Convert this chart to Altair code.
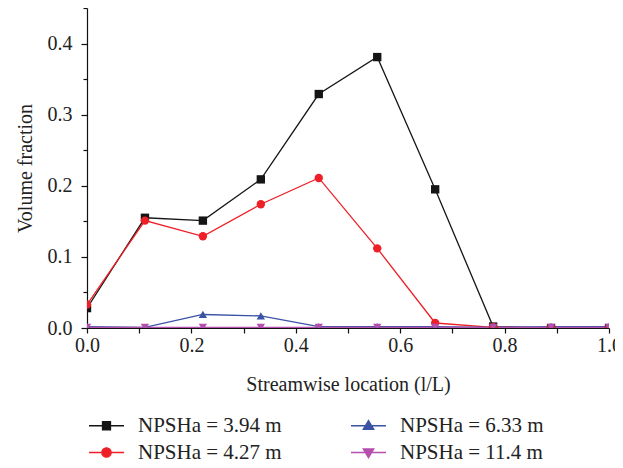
import altair as alt
import pandas as pd

# ---- data ----
x_pos = [0.0, 0.111, 0.222, 0.333, 0.444, 0.556, 0.667, 0.778, 0.889, 1.0]
series_names = ["NPSHa = 3.94 m", "NPSHa = 4.27 m", "NPSHa = 6.33 m", "NPSHa = 11.4 m"]
vf_394 = [0.028, 0.155, 0.151, 0.209, 0.329, 0.381, 0.195, 0.002, 0.0, 0.0]
vf_427 = [0.033, 0.151, 0.129, 0.174, 0.211, 0.112, 0.007, 0.001, 0.0, 0.0]
vf_633 = [0.002, 0.001, 0.019, 0.017, 0.002, 0.002, 0.002, 0.001, 0.002, 0.002]
vf_114 = [0.001, 0.001, 0.001, 0.001, 0.001, 0.001, 0.001, 0.001, 0.001, 0.001]
series_colors = ["#151515", "#ee1f26", "#3a53a4", "#b54fae"]
series_shapes = ["square", "circle", "triangle-up", "triangle-down"]
x_major_ticks = [0.0, 0.2, 0.4, 0.6, 0.8, 1.0]
x_minor_ticks = [0.1, 0.3, 0.5, 0.7, 0.9]
y_major_ticks = [0.0, 0.1, 0.2, 0.3, 0.4]
y_minor_ticks = [0.05, 0.15, 0.25, 0.35, 0.45]

rows = []
for name, vals in zip(series_names, [vf_394, vf_427, vf_633, vf_114]):
    for xv, yv in zip(x_pos, vals):
        rows.append({"x": xv, "y": yv, "series": name})
df = pd.DataFrame(rows)

# legend symbols: line segment with marker (custom SVG paths)
seg = "M-2.06,0H2.06"
legend_paths = {
    series_names[0]: seg + "M-0.47,-0.47H0.47V0.47H-0.47Z",
    series_names[1]: seg + "M-0.55,0A0.55,0.55,0,1,0,0.55,0A0.55,0.55,0,1,0,-0.55,0Z",
    series_names[2]: seg + "M0,-0.62L0.62,0.42H-0.62Z",
    series_names[3]: seg + "M0,0.62L0.62,-0.42H-0.62Z",
}
legend_shape_range = [legend_paths[n] for n in series_names]

FONT = "Liberation Serif"
xs = alt.Scale(domain=[0, 1], nice=False, zero=False)
ys = alt.Scale(domain=[0, 0.45], nice=False)
color_scale = alt.Scale(domain=series_names, range=series_colors)

x_major = alt.Axis(values=x_major_ticks, format=".1f", title="Streamwise location (l/L)",
                   orient="bottom", tickSize=5, labelPadding=2, titlePadding=19,
                   grid=False, labelFlush=False)
y_major = alt.Axis(values=y_major_ticks, format=".1f", title="Volume fraction",
                   orient="left", tickSize=6, labelPadding=9, titlePadding=12, grid=False)
x_minor = alt.Axis(values=x_minor_ticks, labels=False, title="", orient="bottom",
                   tickSize=5, domain=False, grid=False)
y_minor = alt.Axis(values=y_minor_ticks, labels=False, title="", orient="left",
                   tickSize=4, domain=False, grid=False)

lines = alt.Chart(df).mark_line(strokeWidth=1.3, clip=True).encode(
    x=alt.X("x:Q", scale=xs, axis=x_major),
    y=alt.Y("y:Q", scale=ys, axis=y_major),
    stroke=alt.Stroke("series:N", scale=color_scale, legend=None),
)

points = alt.Chart(df).mark_point(filled=True, size=70, opacity=1, clip=True).encode(
    x=alt.X("x:Q", scale=xs, axis=None),
    y=alt.Y("y:Q", scale=ys, axis=None),
    fill=alt.Fill("series:N", scale=color_scale, legend=None),
    shape=alt.Shape("series:N", scale=alt.Scale(domain=series_names, range=series_shapes), legend=None),
)

leg = alt.Legend(
    title=None, orient="none", legendX=9, legendY=407, columns=2,
    symbolSize=289, symbolStrokeWidth=1.3, labelFont=FONT, labelFontSize=21,
    labelColor="#222222", labelOffset=21, columnPadding=66, rowPadding=5,
    padding=0, labelLimit=300, symbolOpacity=1,
)

legend_layer = alt.Chart(df).transform_filter("datum.x > 5").mark_point(
    filled=True, opacity=1, strokeWidth=1.3
).encode(
    x=alt.X("x:Q", scale=xs, axis=None),
    y=alt.Y("y:Q", scale=ys, axis=None),
    fill=alt.Fill("series:N", scale=color_scale, legend=leg),
    stroke=alt.Stroke("series:N", scale=color_scale, legend=leg),
    shape=alt.Shape("series:N", scale=alt.Scale(domain=series_names, range=legend_shape_range), legend=leg),
)

minor = alt.Chart(df).mark_point(opacity=0).encode(
    x=alt.X("x:Q", scale=xs, axis=x_minor),
    y=alt.Y("y:Q", scale=ys, axis=y_minor),
)

chart = alt.layer(lines, points, minor, legend_layer).resolve_axis(
    x="independent", y="independent"
).resolve_scale(
    fill="independent", stroke="independent", shape="independent"
).properties(
    width=522, height=320,
    autosize=alt.AutoSizeParams(type="none"),
    padding={"left": 79, "top": 0, "right": 6, "bottom": 132},
).configure_view(strokeWidth=0).configure_axis(
    labelFont=FONT, titleFont=FONT, labelFontSize=20, titleFontSize=20,
    titleFontWeight="normal", labelColor="#222222", titleColor="#222222",
    domainColor="#111111", tickColor="#111111", domainWidth=1.2, tickWidth=1.2,
)

chart.save("out.html", embed_options={"renderer": "svg", "actions": False})
